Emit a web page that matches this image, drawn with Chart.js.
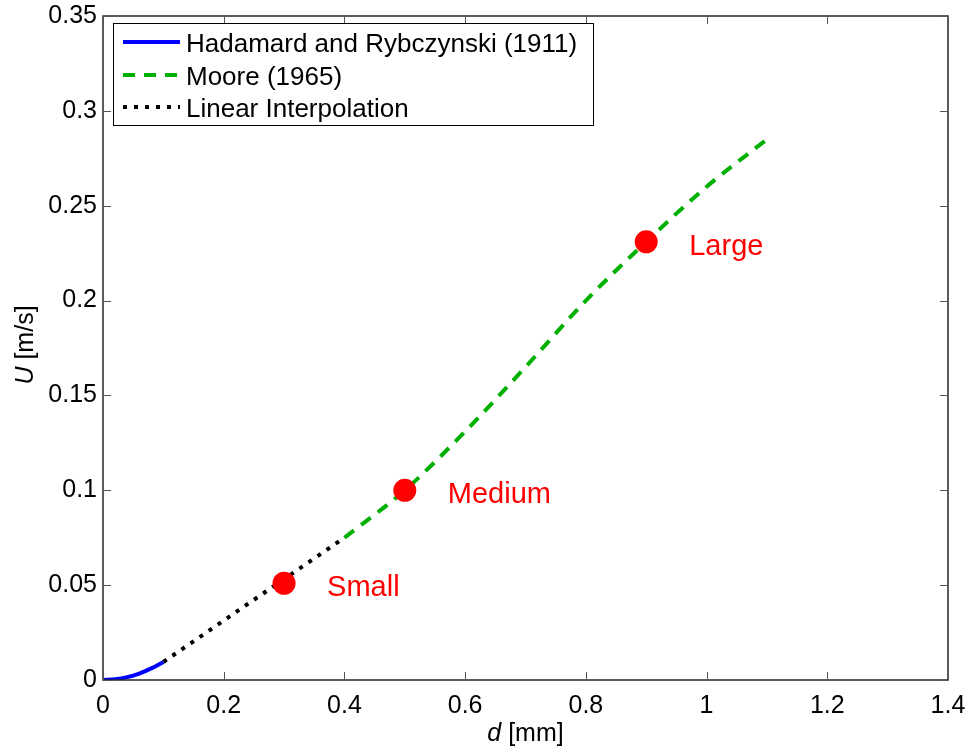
<!DOCTYPE html>
<html>
<head>
<meta charset="utf-8">
<script src="https://cdn.jsdelivr.net/npm/chart.js@4"></script>
<style>
  html, body { margin: 0; padding: 0; background: #fff; }
  #wrap { width: 968px; height: 747px; }
</style>
</head>
<body>
<div id="wrap"><canvas id="bubble_chart"></canvas></div>
<script>
// Hadamard and Rybczynski (1911)
const hrD = [0, 0.02, 0.04, 0.06, 0.08, 0.1];
const hrU = [0, 0.0004, 0.0015, 0.0034, 0.0061, 0.0095];

// Moore (1965)
const mooreD = [0.4, 0.5, 0.6, 0.7, 0.8, 0.9, 1.0, 1.1];
const mooreU = [0.075, 0.1, 0.131, 0.165, 0.2, 0.231, 0.26, 0.285];

// Linear Interpolation
const linD = [0.1, 0.4];
const linU = [0.0095, 0.075];

// bubble sizes
const bubbleNames = ['Small', 'Medium', 'Large'];
const bubbleD = [0.3, 0.5, 0.9];
const bubbleU = [0.051, 0.1, 0.231];

const xTicks = [0, 0.2, 0.4, 0.6, 0.8, 1, 1.2, 1.4];
const yTicks = [0, 0.05, 0.1, 0.15, 0.2, 0.25, 0.3, 0.35];

const FONT = '"Liberation Sans", Arial, sans-serif';
const toPts = (xs, ys) => xs.map((x, i) => ({ x: x, y: ys[i] }));

const matlabBox = {
  id: 'matlabBox',
  afterDraw(chart) {
    const ctx = chart.ctx;
    const a = chart.chartArea;
    const xs = chart.scales.x, ys = chart.scales.y;
    ctx.save();
    ctx.strokeStyle = '#262626';
    ctx.lineWidth = 1.5;
    ctx.strokeRect(a.left, a.top, a.right - a.left, a.bottom - a.top);
    ctx.lineWidth = 1;
    ctx.strokeStyle = '#555';
    const tl = 8;
    xTicks.forEach(v => {
      const px = Math.round(xs.getPixelForValue(v)) + 0.5;
      ctx.beginPath();
      ctx.moveTo(px, a.bottom); ctx.lineTo(px, a.bottom - tl);
      ctx.moveTo(px, a.top); ctx.lineTo(px, a.top + tl);
      ctx.stroke();
    });
    yTicks.forEach(v => {
      const py = Math.round(ys.getPixelForValue(v)) + 0.5;
      ctx.beginPath();
      ctx.moveTo(a.left, py); ctx.lineTo(a.left + tl, py);
      ctx.moveTo(a.right, py); ctx.lineTo(a.right - tl, py);
      ctx.stroke();
    });

    // axis titles with italic symbol
    ctx.fillStyle = '#000';
    ctx.textBaseline = 'middle';
    const drawTitle = (sym, rest, cx, cy, rot) => {
      ctx.save();
      ctx.translate(cx, cy);
      ctx.rotate(rot);
      ctx.font = 'italic 25px ' + FONT;
      const w1 = ctx.measureText(sym).width;
      ctx.font = '25px ' + FONT;
      const w2 = ctx.measureText(rest).width;
      const start = -(w1 + w2) / 2;
      ctx.textAlign = 'left';
      ctx.font = 'italic 25px ' + FONT;
      ctx.fillText(sym, start, 0);
      ctx.font = '25px ' + FONT;
      ctx.fillText(rest, start + w1, 0);
      ctx.restore();
    };
    drawTitle('d', ' [mm]', (a.left + a.right) / 2, 734, 0);
    drawTitle('U', ' [m/s]', 26, 345, -Math.PI / 2);

    // bubble labels
    const meta = chart.getDatasetMeta(3);
    ctx.fillStyle = '#ff0000';
    ctx.font = '29px ' + FONT;
    ctx.textAlign = 'left';
    ctx.textBaseline = 'alphabetic';
    meta.data.forEach((pt, i) => {
      ctx.fillText(bubbleNames[i], pt.x + 43, pt.y + 13);
    });

    // legend box
    const lx = 113, ly = 23, lw = 480, lh = 102;
    ctx.fillStyle = '#fff';
    ctx.fillRect(lx, ly, lw, lh);
    ctx.strokeStyle = '#000';
    ctx.lineWidth = 1;
    ctx.strokeRect(lx + 0.5, ly + 0.5, lw, lh);
    ctx.font = '26px ' + FONT;
    [0, 1, 2].forEach(i => {
      const ds = chart.data.datasets[i];
      const ry = Math.round(42 + i * 32.5);
      ctx.save();
      ctx.strokeStyle = ds.borderColor;
      ctx.lineWidth = ds.borderWidth;
      ctx.setLineDash(ds.borderDash || []);
      ctx.beginPath();
      ctx.moveTo(123, ry); ctx.lineTo(180, ry);
      ctx.stroke();
      ctx.restore();
      ctx.fillStyle = '#000';
      ctx.fillText(ds.label, 186, ry + 10);
    });
    ctx.restore();
  }
};

new Chart(document.getElementById('bubble_chart'), {
  type: 'scatter',
  data: {
    datasets: [
      {
        label: 'Hadamard and Rybczynski (1911)',
        data: toPts(hrD, hrU),
        showLine: true,
        borderColor: '#0000ff',
        borderWidth: 4,
        pointRadius: 0,
        cubicInterpolationMode: 'monotone',
        order: 3
      },
      {
        label: 'Moore (1965)',
        data: toPts(mooreD, mooreU),
        showLine: true,
        borderColor: '#00b000',
        borderWidth: 4,
        borderDash: [12, 9],
        pointRadius: 0,
        cubicInterpolationMode: 'monotone',
        order: 2
      },
      {
        label: 'Linear Interpolation',
        data: toPts(linD, linU),
        showLine: true,
        borderColor: '#000000',
        borderWidth: 4,
        borderDash: [4, 7],
        pointRadius: 0,
        order: 4
      },
      {
        label: 'Bubbles',
        data: toPts(bubbleD, bubbleU),
        showLine: false,
        backgroundColor: '#ff0000',
        borderColor: '#ff0000',
        pointRadius: 11.5,
        borderWidth: 0,
        order: 1
      }
    ]
  },
  options: {
    responsive: true,
    maintainAspectRatio: false,
    animation: false,
    layout: { padding: { top: 16, right: 20, left: 0, bottom: 0 } },
    plugins: {
      legend: { display: false },
      tooltip: { enabled: false }
    },
    scales: {
      x: {
        type: 'linear',
        min: 0,
        max: 1.4,
        afterFit: s => { s.height = 67; s.paddingLeft = 0; s.paddingRight = 0; },
        afterBuildTicks: s => { s.ticks = xTicks.map(v => ({ value: v })); },
        grid: { display: false, drawTicks: false },
        border: { display: false },
        ticks: {
          color: '#000',
          padding: 11,
          maxRotation: 0,
          font: { family: FONT, size: 25 },
          callback: v => String(v)
        }
      },
      y: {
        type: 'linear',
        min: 0,
        max: 0.35,
        afterFit: s => { s.width = 103; s.paddingTop = 0; s.paddingBottom = 0; },
        afterBuildTicks: s => { s.ticks = yTicks.map(v => ({ value: v })); },
        grid: { display: false, drawTicks: false },
        border: { display: false },
        ticks: {
          color: '#000',
          padding: 6,
          font: { family: FONT, size: 25 },
          callback: v => String(v)
        }
      }
    }
  },
  plugins: [matlabBox]
});
</script>
</body>
</html>
